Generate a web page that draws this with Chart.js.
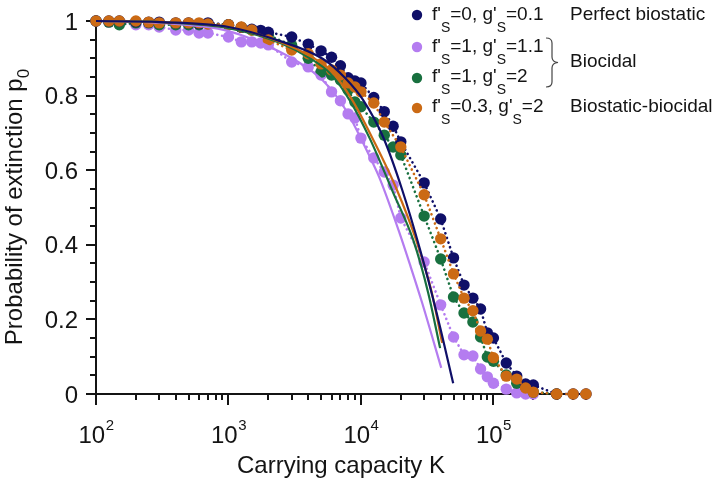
<!DOCTYPE html>
<html>
<head>
<meta charset="utf-8">
<script src="https://cdn.jsdelivr.net/npm/chart.js@4"></script>
<style>
html, body { margin: 0; padding: 0; background: #fff; }
canvas { display: block; }
</style>
</head>
<body>
<canvas id="c" width="714" height="483"></canvas>
<script>
// Simulations (points + dotted line)
const navyK = [100,125,150,200,250,300,400,500,600,700,1000,1250,1500,1750,2000,3000,4000,5000,6000,7000,8000,9000,10000,12500,15000,17500,20000,30000,40000,50000,60000,70000,80000,90000,100000,125000,150000,175000,200000,300000,400000,500000];
const navyP = [1.0,1.0,1.0,0.998,0.997,0.997,0.995,0.995,0.993,0.995,0.99,0.983,0.978,0.975,0.97,0.957,0.938,0.92,0.903,0.88,0.848,0.839,0.834,0.795,0.757,0.718,0.676,0.566,0.469,0.365,0.292,0.257,0.228,0.164,0.150,0.083,0.048,0.027,0.024,0,0,0];

const purpleK = [100,125,150,200,250,300,400,500,600,700,1000,1250,1500,1750,2000,3000,4000,5000,6000,7000,8000,9000,10000,12500,15000,17500,20000,30000,40000,50000,60000,70000,80000,90000,100000,125000,150000,175000,200000];
const purpleP = [1.0,0.997,0.995,0.99,0.99,0.984,0.976,0.976,0.968,0.968,0.957,0.944,0.944,0.941,0.936,0.89,0.877,0.855,0.81,0.786,0.751,0.74,0.686,0.633,0.595,0.56,0.472,0.354,0.239,0.153,0.105,0.102,0.067,0.046,0.029,0.013,0.003,0,0];

const greenK = [100,125,150,200,250,300,400,500,600,700,1000,1250,1500,2000,3000,4000,5000,6000,7000,8000,9000,10000,12500,15000,17500,20000,30000,40000,50000,60000,70000,80000,90000,100000,125000,150000,175000,200000,300000];
const greenP = [1.0,0.997,0.99,0.995,0.995,0.99,0.99,0.99,0.99,0.993,0.99,0.983,0.976,0.962,0.935,0.9,0.863,0.855,0.842,0.815,0.783,0.77,0.729,0.694,0.662,0.641,0.477,0.362,0.26,0.217,0.193,0.153,0.099,0.088,0.051,0.029,0.019,0.005,0];

const orangeK = [100,125,150,200,250,300,400,500,600,700,1000,1250,1500,2000,3000,4000,5000,6000,7000,8000,9000,10000,12500,15000,20000,30000,40000,50000,60000,70000,80000,90000,100000,125000,150000,175000,200000,300000,400000,500000];
const orangeP = [1.0,1.0,1.0,1.0,0.997,0.995,0.995,0.995,0.995,0.992,0.99,0.984,0.976,0.949,0.922,0.912,0.885,0.869,0.855,0.834,0.823,0.81,0.78,0.729,0.662,0.534,0.416,0.322,0.257,0.223,0.169,0.147,0.097,0.048,0.040,0.016,0.005,0,0,0];

// Theory (solid lines)
const navyThK = [100,304,1000,2460,5180,7600,10400,14700,20500,28000,37600,49700];
const navyThP = [1.0,0.997,0.984,0.946,0.898,0.847,0.788,0.689,0.547,0.386,0.212,0.029];
const purpleThK = [100,304,1000,2460,4360,5850,7870,9860,11700,14000,19800,23500,29000,40400];
const purpleThP = [1.0,0.995,0.973,0.917,0.863,0.82,0.756,0.689,0.635,0.574,0.426,0.346,0.244,0.07];
const greenThK = [100,304,1000,2460,4130,5850,8280,11700,17500,24800,32200,39600];
const greenThP = [1.0,0.997,0.981,0.941,0.9,0.86,0.786,0.684,0.54,0.413,0.271,0.123];
const orangeThK = [100,304,1000,2460,4130,5850,8600,12400,18700,26100,33900,41000];
const orangeThP = [1.0,0.997,0.984,0.944,0.906,0.869,0.788,0.681,0.547,0.413,0.279,0.137];

const yMajor = [0, 0.2, 0.4, 0.6, 0.8, 1];
const yMajorLabels = ['0', '0.2', '0.4', '0.6', '0.8', '1'];
const xDecades = [2, 3, 4, 5];

const FONT = '"Liberation Sans", Arial, Helvetica, sans-serif';
const NAVY = '#0f0f68';
const PURPLE = '#b47cf0';
const GREEN = '#18703f';
const ORANGE = '#cb6a14';
const INK = '#141414';

function pts(K, P) {
    return K.map((k, i) => ({ x: k, y: P[i] }));
}

function simSet(label, K, P, col, order) {
    return {
        label: label,
        data: pts(K, P),
        showLine: true,
        borderColor: col,
        backgroundColor: col,
        borderWidth: 2.6,
        borderDash: [0.1, 4.8],
        borderCapStyle: 'round',
        pointRadius: 5.7,
        pointHoverRadius: 5.7,
        pointBorderWidth: 0,
        pointBackgroundColor: col,
        clip: false,
        order: order
    };
}

function theorySet(label, K, P, col, order) {
    return {
        label: label,
        data: pts(K, P),
        showLine: true,
        borderColor: col,
        borderWidth: 2.2,
        pointRadius: 0,
        cubicInterpolationMode: 'monotone',
        clip: false,
        order: order
    };
}

// texte avec indices : [[texte, indice?], ...]
function runsWidth(ctx, runs, size, subSize) {
    let w = 0;
    runs.forEach(r => {
        ctx.font = (r[1] ? subSize : size) + 'px ' + FONT;
        w += ctx.measureText(r[0]).width;
    });
    return w;
}

function drawRuns(ctx, x, y, runs, size, subSize, subOffset) {
    runs.forEach(r => {
        ctx.font = (r[1] ? subSize : size) + 'px ' + FONT;
        ctx.fillText(r[0], x, r[1] ? y + subOffset : y);
        x += ctx.measureText(r[0]).width;
    });
}

const axesPlugin = {
    id: 'axes',
    beforeDatasetsDraw(chart) {
        const ctx = chart.ctx;
        const a = chart.chartArea;
        const x = chart.scales.x;
        const y = chart.scales.y;
        ctx.save();
        ctx.strokeStyle = INK;
        ctx.fillStyle = INK;
        ctx.lineWidth = 2;

        // axes
        ctx.beginPath();
        ctx.moveTo(a.left, a.top - 1);
        ctx.lineTo(a.left, a.bottom);
        ctx.lineTo(a.right + 2, a.bottom);
        ctx.stroke();

        // y ticks
        for (let i = 0; i <= 20; i++) {
            const v = i * 0.05;
            const py = Math.round(y.getPixelForValue(v));
            const major = i % 4 === 0;
            ctx.beginPath();
            ctx.moveTo(a.left, py);
            ctx.lineTo(a.left - (major ? 10 : 6), py);
            ctx.stroke();
        }
        ctx.font = '24px ' + FONT;
        ctx.textAlign = 'right';
        ctx.textBaseline = 'alphabetic';
        yMajor.forEach((v, i) => {
            ctx.fillText(yMajorLabels[i], 78, y.getPixelForValue(v) + 8.5);
        });

        // x ticks
        xDecades.forEach(d => {
            for (let m = 1; m <= 9; m++) {
                const v = m * Math.pow(10, d);
                if (v > x.max * 1.0001) continue;
                const px = Math.round(x.getPixelForValue(v));
                ctx.beginPath();
                ctx.moveTo(px, a.bottom);
                ctx.lineTo(px, a.bottom + (m === 1 ? 11 : 6));
                ctx.stroke();
            }
        });
        ctx.textAlign = 'left';
        xDecades.forEach(d => {
            const px = x.getPixelForValue(Math.pow(10, d));
            ctx.font = '24px ' + FONT;
            const w1 = ctx.measureText('10').width;
            ctx.font = '15px ' + FONT;
            const w2 = ctx.measureText(String(d)).width;
            const left = px - (w1 + w2) / 2;
            ctx.font = '24px ' + FONT;
            ctx.fillText('10', left, 443);
            ctx.font = '15px ' + FONT;
            ctx.fillText(String(d), left + w1 + 0.5, 430);
        });

        // x title
        ctx.font = '24px ' + FONT;
        ctx.textAlign = 'center';
        ctx.fillText('Carrying capacity K', 341, 473);

        // y title
        const yRuns = [['Probability of extinction p', false], ['0', true]];
        ctx.textAlign = 'left';
        ctx.translate(22, 207);
        ctx.rotate(-Math.PI / 2);
        const tw = runsWidth(ctx, yRuns, 24, 17);
        drawRuns(ctx, -tw / 2, 0, yRuns, 24, 17, 7);
        ctx.restore();
    },
    afterDraw(chart) {
        const ctx = chart.ctx;
        ctx.save();
        const rows = [
            { col: NAVY, cy: 15, base: 20, runs: [["f'", false], ['S', true], ["=0, g'", false], ['S', true], ['=0.1', false]] },
            { col: PURPLE, cy: 47, base: 52, runs: [["f'", false], ['S', true], ["=1, g'", false], ['S', true], ['=1.1', false]] },
            { col: GREEN, cy: 78, base: 82, runs: [["f'", false], ['S', true], ["=1, g'", false], ['S', true], ['=2', false]] },
            { col: ORANGE, cy: 108, base: 112, runs: [["f'", false], ['S', true], ["=0.3, g'", false], ['S', true], ['=2', false]] }
        ];
        ctx.textAlign = 'left';
        ctx.textBaseline = 'alphabetic';
        rows.forEach(r => {
            ctx.fillStyle = r.col;
            ctx.beginPath();
            ctx.arc(417, r.cy, 5.2, 0, Math.PI * 2);
            ctx.fill();
            ctx.fillStyle = INK;
            drawRuns(ctx, 432, r.base, r.runs, 19, 14, 12);
        });
        ctx.font = '19px ' + FONT;
        ctx.fillText('Perfect biostatic', 570, 20);
        ctx.fillText('Biocidal', 570, 67);
        ctx.fillText('Biostatic-biocidal', 570, 112);

        // accolade
        ctx.strokeStyle = '#444';
        ctx.lineWidth = 1.2;
        ctx.beginPath();
        ctx.moveTo(546, 38);
        ctx.quadraticCurveTo(552, 38, 552, 43);
        ctx.lineTo(552, 57);
        ctx.quadraticCurveTo(552, 62, 558, 62.5);
        ctx.quadraticCurveTo(552, 63, 552, 68);
        ctx.lineTo(552, 82);
        ctx.quadraticCurveTo(552, 87, 546, 87);
        ctx.stroke();
        ctx.restore();
    }
};

const datasets = [
    theorySet('navy theory', navyThK, navyThP, NAVY, 1),
    theorySet('orange theory', orangeThK, orangeThP, ORANGE, 2),
    theorySet('green theory', greenThK, greenThP, GREEN, 3),
    theorySet('purple theory', purpleThK, purpleThP, PURPLE, 4),
    simSet("f'S=0.3, g'S=2", orangeK, orangeP, ORANGE, 5),
    simSet("f'S=0, g'S=0.1", navyK, navyP, NAVY, 6),
    simSet("f'S=1, g'S=2", greenK, greenP, GREEN, 7),
    simSet("f'S=1, g'S=1.1", purpleK, purpleP, PURPLE, 8)
];

new Chart(document.getElementById('c'), {
    type: 'scatter',
    data: { datasets: datasets },
    options: {
        responsive: false,
        animation: false,
        devicePixelRatio: 1,
        layout: { padding: { left: 96, right: 128, top: 21, bottom: 89 } },
        plugins: {
            legend: { display: false },
            tooltip: { enabled: false }
        },
        scales: {
            x: { type: 'logarithmic', min: 100, max: 500000, display: false },
            y: { type: 'linear', min: 0, max: 1, display: false }
        }
    },
    plugins: [axesPlugin]
});
</script>
</body>
</html>
